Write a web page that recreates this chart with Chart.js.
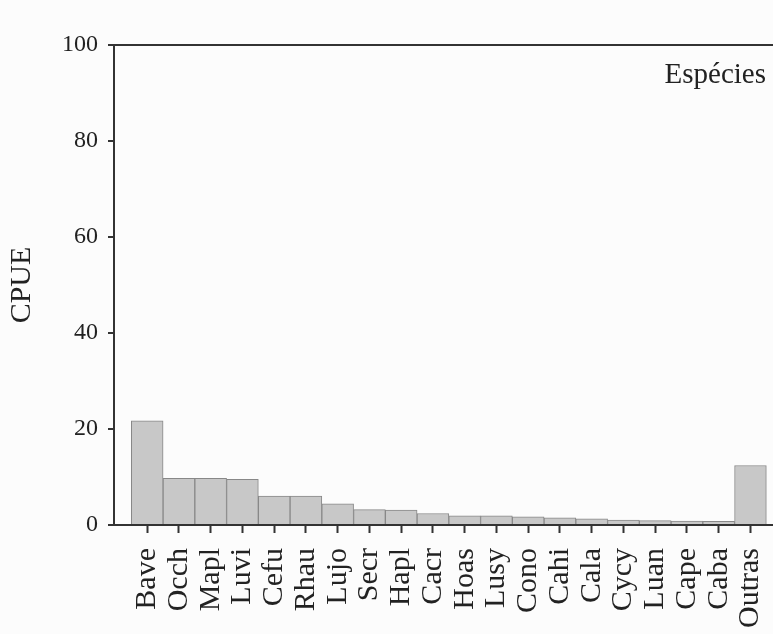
<!DOCTYPE html>
<html>
<head>
<meta charset="utf-8">
<script src="https://cdn.jsdelivr.net/npm/chart.js@4.4.1/dist/chart.umd.min.js"></script>
<style>
  body { margin: 0; background: #fcfcfc; }
  #box { width: 773px; height: 634px; position: relative; }
</style>
</head>
<body>
<div id="box"><canvas id="grafico"></canvas></div>
<script>
const especies = ['Bave', 'Occh', 'Mapl', 'Luvi', 'Cefu', 'Rhau', 'Lujo', 'Secr', 'Hapl', 'Cacr',
  'Hoas', 'Lusy', 'Cono', 'Cahi', 'Cala', 'Cycy', 'Luan', 'Cape', 'Caba', 'Outras'];
const cpue = [21.7, 9.7, 9.7, 9.5, 6.0, 6.0, 4.4, 3.2, 3.1, 2.4,
  1.9, 1.9, 1.7, 1.5, 1.3, 1.0, 0.9, 0.8, 0.75, 12.4];
const ticksY = [0, 20, 40, 60, 80, 100];

const fonte = "'Liberation Serif', 'Times New Roman', serif";
const corTexto = '#222';
const corEixo = '#333';

// texto "Espécies" dentro do gráfico
const rotuloEspecies = {
  id: 'rotuloEspecies',
  afterDraw(chart) {
    const { ctx, chartArea } = chart;
    ctx.save();
    ctx.font = '29px ' + fonte;
    ctx.fillStyle = corTexto;
    ctx.textAlign = 'right';
    ctx.textBaseline = 'alphabetic';
    ctx.fillText('Espécies', chartArea.right - 7, chartArea.top + 38);
    ctx.restore();
  }
};

new Chart(document.getElementById('grafico'), {
  type: 'bar',
  data: {
    datasets: [{
      data: cpue.map((v, i) => ({ x: i, y: v })),
      backgroundColor: '#c8c8c8',
      borderColor: '#888',
      borderWidth: 1,
      barPercentage: 1,
      categoryPercentage: 1
    }]
  },
  options: {
    responsive: true,
    maintainAspectRatio: false,
    animation: false,
    layout: { padding: { top: 45, right: 0, left: 0, bottom: 0 } },
    plugins: { legend: { display: false }, tooltip: { enabled: false } },
    scales: {
      x: {
        type: 'linear',
        offset: false,
        min: -1.046,
        max: 19.71,
        afterFit: s => { s.height = 109; s.paddingLeft = 0; s.paddingRight = 0; },
        afterBuildTicks: s => { s.ticks = especies.map((_, i) => ({ value: i })); },
        border: { display: true, color: corEixo, width: 2 },
        grid: { offset: false, color: 'transparent', drawOnChartArea: false, tickColor: corEixo, tickLength: 8, tickWidth: 2 },
        ticks: {
          autoSkip: false,
          minRotation: 90,
          maxRotation: 90,
          padding: 15,
          color: corTexto,
          font: { family: fonte, size: 30 },
          callback: v => especies[v] ?? ''
        }
      },
      y: {
        min: 0,
        max: 100,
        afterFit: s => { s.width = 114; s.paddingTop = 0; s.paddingBottom = 0; },
        afterBuildTicks: s => { s.ticks = ticksY.map(v => ({ value: v })); },
        border: { display: true, color: corEixo, width: 2 },
        grid: {
          color: c => (c.tick && c.tick.value === 100) ? corEixo : 'transparent',
          lineWidth: 2,
          tickColor: corEixo,
          tickLength: 6,
          tickWidth: 2
        },
        ticks: { padding: 10, color: corTexto, font: { family: fonte, size: 24 } },
        title: { display: true, text: 'CPUE', color: corTexto, font: { family: fonte, size: 30 }, padding: { top: 4, bottom: 4 } }
      }
    }
  },
  plugins: [rotuloEspecies]
});
</script>
</body>
</html>
